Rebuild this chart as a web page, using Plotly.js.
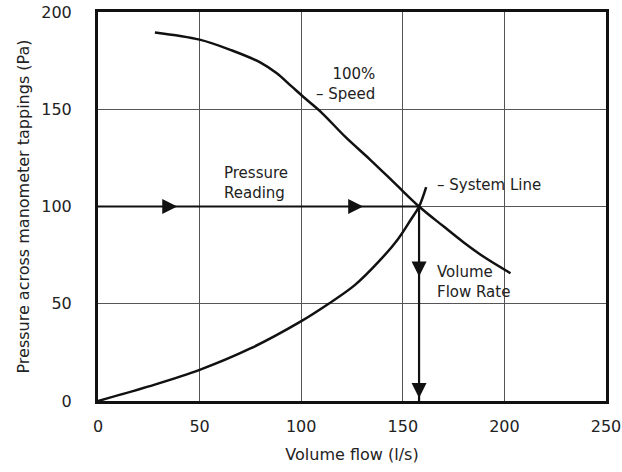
<!DOCTYPE html>
<html>
<head>
<meta charset="utf-8">
<script src="https://cdn.plot.ly/plotly-3.0.1.min.js"></script>
<style>html,body{margin:0;padding:0;background:#fff;}#chart{width:622px;height:472px;}</style>
</head>
<body>
<div id="chart"></div>
<script>
// Fan curve (100% speed)
const fanFlow = [28, 50, 66, 80, 88, 95, 102, 110, 122, 134, 146, 158, 170, 180, 190, 203];
const fanPressure = [189.5, 185.8, 180.2, 174, 168.5, 162, 155.5, 148.3, 135.5, 124, 112, 100, 89.8, 81.5, 74, 65.7];
// System line
const sysFlow = [0, 25, 50, 75, 99, 113.5, 126.5, 138, 147.6, 154, 158, 161.5];
const sysPressure = [0, 7.5, 16, 27, 40.4, 50, 59.7, 71.5, 83.2, 93.3, 100, 110];
// Operating point
const opFlow = 158;
const opPressure = 100;
// Arrow markers
const hArrowFlow = [39, 130.5];
const vArrowPressure = [64, 1.5];
// Ticks
const xTicks = [0, 50, 100, 150, 200, 250];
const yTicks = [0, 50, 100, 150, 200];

const FONT = '"DejaVu Sans", Verdana, sans-serif';

const traces = [
  {x: fanFlow, y: fanPressure, mode: 'lines', line: {color: '#111', width: 2.5, shape: 'spline', smoothing: 1}, hoverinfo: 'skip'},
  {x: sysFlow, y: sysPressure, mode: 'lines', line: {color: '#111', width: 2.5, shape: 'spline', smoothing: 1}, hoverinfo: 'skip'},
  {x: [0, opFlow], y: [opPressure, opPressure], mode: 'lines', line: {color: '#111', width: 2.2}, hoverinfo: 'skip'},
  {x: [opFlow, opFlow], y: [opPressure, 0], mode: 'lines', line: {color: '#111', width: 2.2}, hoverinfo: 'skip'},
  {x: hArrowFlow, y: hArrowFlow.map(() => opPressure), mode: 'markers', marker: {symbol: 'arrow-right', size: 15, color: '#111'}, hoverinfo: 'skip'},
  {x: vArrowPressure.map(() => opFlow), y: vArrowPressure, mode: 'markers', marker: {symbol: 'arrow-down', size: 15, color: '#111'}, hoverinfo: 'skip'}
];

const annFont = {family: FONT, size: 15, color: '#222'};
const layout = {
  width: 622, height: 472,
  margin: {l: 98, r: 16, t: 12, b: 71},
  paper_bgcolor: '#fff', plot_bgcolor: '#fff',
  showlegend: false,
  font: {family: FONT, color: '#222'},
  xaxis: {
    range: [0, 250], tickvals: xTicks, ticktext: xTicks.map(String),
    showgrid: true, gridcolor: '#555', gridwidth: 1.2,
    zeroline: false, showline: true, linecolor: '#111', linewidth: 3, mirror: true,
    ticks: 'outside', ticklen: 9, tickcolor: 'rgba(0,0,0,0)',
    tickfont: {family: FONT, size: 16, color: '#222'},
    title: {text: 'Volume flow (l/s)', font: {family: FONT, size: 16, color: '#222'}, standoff: 14},
    fixedrange: true
  },
  yaxis: {
    range: [0, 200], tickvals: yTicks, ticktext: yTicks.map(String),
    showgrid: true, gridcolor: '#555', gridwidth: 1.2,
    zeroline: false, showline: true, linecolor: '#111', linewidth: 3, mirror: true,
    ticks: 'outside', ticklen: 20, tickcolor: 'rgba(0,0,0,0)',
    tickfont: {family: FONT, size: 16, color: '#222'},
    title: {text: 'Pressure across manometer tappings (Pa)', font: {family: FONT, size: 16, color: '#222'}, standoff: 8},
    fixedrange: true
  },
  annotations: [
    {x: 137.3, y: 163.1, xref: 'x', yref: 'y', text: '100%<br>– Speed', showarrow: false, xanchor: 'right', yanchor: 'middle', align: 'right', font: annFont},
    {x: 165.8, y: 110.9, xref: 'x', yref: 'y', text: '– System Line', showarrow: false, xanchor: 'left', yanchor: 'middle', font: annFont},
    {x: 165.8, y: 61.1, xref: 'x', yref: 'y', text: 'Volume<br>Flow Rate', showarrow: false, xanchor: 'left', yanchor: 'middle', align: 'left', font: annFont},
    {x: 60.9, y: 112, xref: 'x', yref: 'y', text: 'Pressure<br>Reading', showarrow: false, xanchor: 'left', yanchor: 'middle', align: 'left', font: annFont}
  ]
};

Plotly.newPlot('chart', traces, layout, {staticPlot: true, displayModeBar: false});
</script>
</body>
</html>
